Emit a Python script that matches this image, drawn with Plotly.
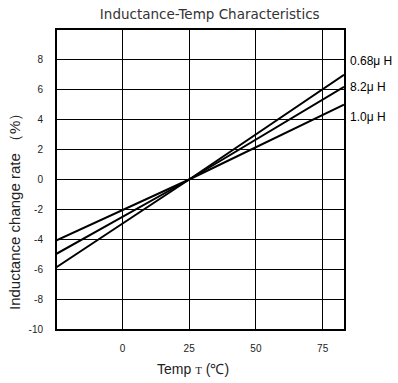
import plotly.graph_objects as go

series_names = ["0.68μ H", "8.2μ H", "1.0μ H"]
temps = [-25, 25, 83]
values = {
    "0.68μ H": [-5.9, 0.0, 7.0],
    "8.2μ H": [-5.0, 0.0, 6.2],
    "1.0μ H": [-4.1, 0.0, 5.0],
}
x_ticks = [0, 25, 50, 75]
y_ticks = [-10, -8, -6, -4, -2, 0, 2, 4, 6, 8]

fig = go.Figure()
for name in series_names:
    fig.add_trace(go.Scatter(x=temps, y=values[name], mode="lines",
                             line=dict(color="black", width=2), name=name,
                             showlegend=False, hoverinfo="skip"))

label_y = {"0.68μ H": 7.9, "8.2μ H": 6.2, "1.0μ H": 4.2}
for name in series_names:
    fig.add_annotation(x=1.0, xref="paper", y=label_y[name], yref="y",
                       text=name, showarrow=False, xanchor="left", xshift=4,
                       font=dict(family="Liberation Sans, Arial", size=12, color="black"))

# axis titles
fig.add_annotation(x=-0.146, xref="paper", y=0.405, yref="paper",
                   text="Inductance change rate （%）", textangle=-90, showarrow=False,
                   xanchor="center", yanchor="middle",
                   font=dict(family="Liberation Sans, Arial", size=15, color="#222"))
fig.add_annotation(x=0.474, xref="paper", y=-0.134, yref="paper",
                   text="Temp <span style='font-size:11px;font-family:Liberation Serif'>T</span> (℃)",
                   showarrow=False, xanchor="center", yanchor="middle",
                   font=dict(family="Liberation Sans, Arial", size=14, color="#222"))

fig.update_layout(
    width=398, height=383,
    margin=dict(l=57, r=54, t=30, b=54),
    paper_bgcolor="white", plot_bgcolor="white",
    title=dict(text="Inductance-Temp Characteristics", x=0.527, xanchor="center",
               y=0.962, yanchor="middle",
               font=dict(family="DejaVu Sans", size=13.5, color="#333")),
    font=dict(family="Liberation Sans, Arial", color="black"),
)
fig.update_xaxes(range=[-24.5, 83], tickvals=x_ticks, ticktext=[str(v) for v in x_ticks],
                 showgrid=True, gridcolor="black", gridwidth=1, zeroline=False,
                 showline=True, linecolor="black", linewidth=2, mirror=True,
                 ticks="", tickfont=dict(size=10, color="#222"), ticklabelstandoff=9)
fig.update_yaxes(range=[-10, 10], tickvals=y_ticks, ticktext=[str(v) for v in y_ticks],
                 showgrid=True, gridcolor="black", gridwidth=1, zeroline=False,
                 showline=True, linecolor="black", linewidth=2, mirror=True,
                 ticks="", tickfont=dict(size=10, color="#222"), ticklabelstandoff=10)

fig.write_html("out.html")
